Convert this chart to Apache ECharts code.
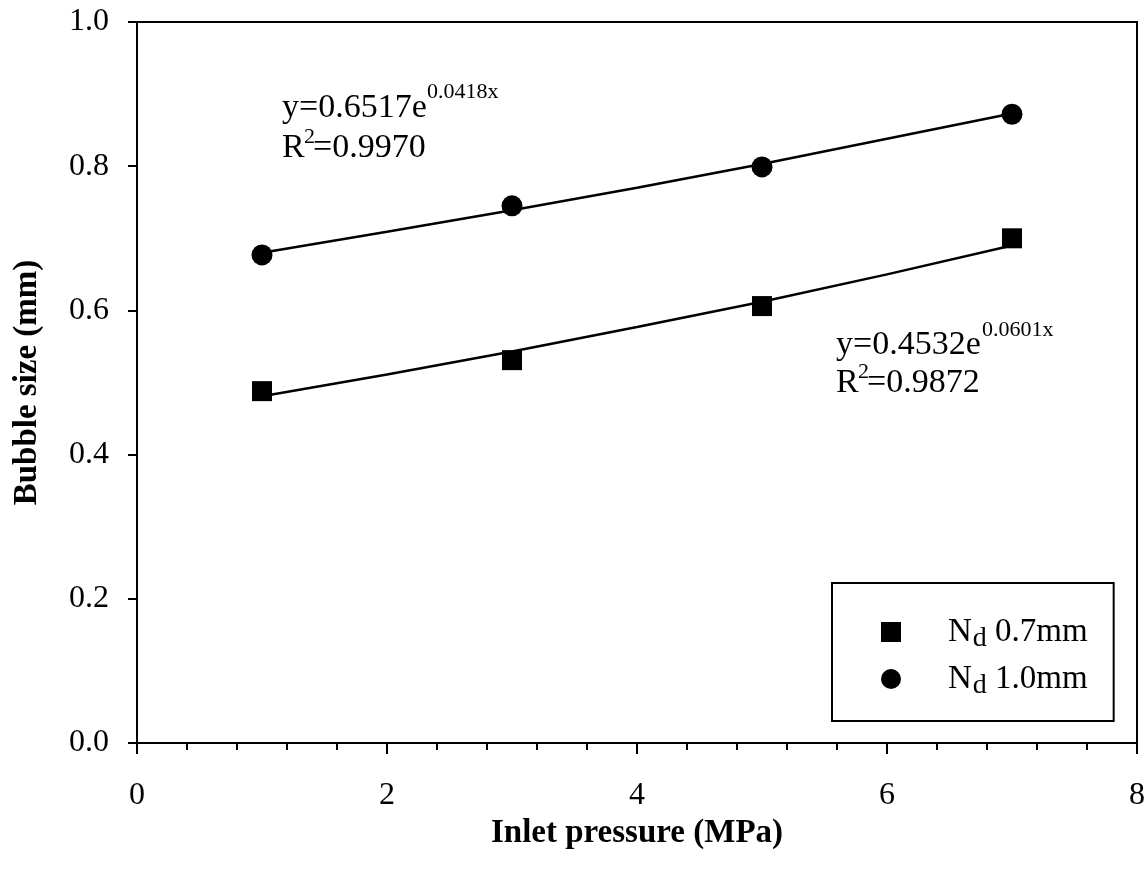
<!DOCTYPE html>
<html>
<head>
<meta charset="utf-8">
<script src="https://cdn.jsdelivr.net/npm/echarts@6/dist/echarts.min.js"></script>
<style>
  html, body { margin: 0; padding: 0; background: #fff; }
  #chart { width: 1148px; height: 875px; }
</style>
</head>
<body>
<div id="chart"></div>
<script>
const pressure = [1, 3, 5, 7];
const size07 = [0.488, 0.531, 0.606, 0.700];
const size10 = [0.677, 0.745, 0.799, 0.872];

// trend lines
const fitX = [1, 2, 3, 4, 5, 6, 7];
const fit07 = [0.481, 0.511, 0.543, 0.577, 0.612, 0.650, 0.690];
const fit10 = [0.680, 0.709, 0.739, 0.770, 0.803, 0.838, 0.873];

const seriesNames = ["Nd 0.7mm", "Nd 1.0mm"];
const xTicks = [0, 2, 4, 6, 8];
const yTicks = [0.0, 0.2, 0.4, 0.6, 0.8, 1.0];

const serif = "'Liberation Serif', 'Times New Roman', serif";

function pairs(xs, ys) {
  return xs.map((x, i) => [x, ys[i]]);
}

const chart = echarts.init(document.getElementById("chart"));

const option = {
  backgroundColor: "#fff",
  animation: false,
  grid: {
    left: 137,
    right: 10,
    top: 22,
    bottom: 132,
    show: true,
    borderColor: "#000",
    borderWidth: 2,
  },
  xAxis: {
    type: "value",
    min: xTicks[0],
    max: xTicks[xTicks.length - 1],
    interval: 2,
    name: "Inlet pressure (MPa)",
    nameLocation: "middle",
    nameGap: 73,
    nameTextStyle: { fontFamily: serif, fontWeight: "bold", fontSize: 33, color: "#000" },
    axisLine: { lineStyle: { color: "#000", width: 2 } },
    axisTick: { length: 11, lineStyle: { color: "#000", width: 2 } },
    minorTick: { show: true, splitNumber: 5, length: 7, lineStyle: { color: "#000", width: 2 } },
    splitLine: { show: false },
    axisLabel: { fontFamily: serif, fontSize: 32, color: "#000", margin: 37 },
  },
  yAxis: {
    type: "value",
    min: yTicks[0],
    max: yTicks[yTicks.length - 1],
    interval: 0.2,
    name: "Bubble size (mm)",
    nameLocation: "middle",
    nameGap: 93,
    nameTextStyle: { fontFamily: serif, fontWeight: "bold", fontSize: 33, color: "#000" },
    axisLine: { lineStyle: { color: "#000", width: 2 } },
    axisTick: { length: 9, lineStyle: { color: "#000", width: 2 } },
    splitLine: { show: false },
    axisLabel: {
      fontFamily: serif, fontSize: 32, color: "#000", margin: 28,
      formatter: (v) => v.toFixed(1),
    },
  },
  legend: {
    data: [
      { name: seriesNames[0], icon: "rect" },
      { name: seriesNames[1], icon: "circle" },
    ],
    orient: "vertical",
    left: 832,
    top: 583,
    padding: [33, 26, 21, 49],
    itemWidth: 20,
    itemHeight: 20,
    itemGap: 10,
    borderColor: "#000",
    borderWidth: 2,
    selectedMode: false,
    itemStyle: { opacity: 1 },
    formatter: (name) => {
      const parts = name.split(" ");
      return "{gap|}{n|N}{d|d}{n| " + parts[1] + "}";
    },
    textStyle: {
      color: "#000",
      rich: {
        gap: { width: 42 },
        n: { fontFamily: serif, fontSize: 33, color: "#000", verticalAlign: "top", lineHeight: 32 },
        d: { fontFamily: serif, fontSize: 28, color: "#000", verticalAlign: "top", lineHeight: 32, padding: [9, 0, 0, 1] },
      },
    },
  },
  graphic: [
    { type: "text", left: 282, top: 91, style: { text: "y=0.6517e", font: "34px " + serif, fill: "#000" } },
    { type: "text", left: 427, top: 81, style: { text: "0.0418x", font: "22px " + serif, fill: "#000" } },
    { type: "text", left: 282, top: 131, style: { text: "R", font: "34px " + serif, fill: "#000" } },
    { type: "text", left: 304, top: 126, style: { text: "2", font: "22px " + serif, fill: "#000" } },
    { type: "text", left: 313, top: 131, style: { text: "=0.9970", font: "34px " + serif, fill: "#000" } },

    { type: "text", left: 836, top: 328, style: { text: "y=0.4532e", font: "34px " + serif, fill: "#000" } },
    { type: "text", left: 982, top: 319, style: { text: "0.0601x", font: "22px " + serif, fill: "#000" } },
    { type: "text", left: 836, top: 366, style: { text: "R", font: "34px " + serif, fill: "#000" } },
    { type: "text", left: 858, top: 361, style: { text: "2", font: "22px " + serif, fill: "#000" } },
    { type: "text", left: 867, top: 366, style: { text: "=0.9872", font: "34px " + serif, fill: "#000" } },
  ],
  series: [
    {
      name: "fit07",
      type: "line",
      data: pairs(fitX, fit07),
      showSymbol: false,
      lineStyle: { color: "#000", width: 2.5 },
      z: 2,
    },
    {
      name: "fit10",
      type: "line",
      data: pairs(fitX, fit10),
      showSymbol: false,
      lineStyle: { color: "#000", width: 2.5 },
      z: 2,
    },
    {
      name: seriesNames[0],
      type: "scatter",
      symbol: "rect",
      symbolSize: 20,
      itemStyle: { color: "#000", opacity: 1 },
      data: pairs(pressure, size07),
      z: 3,
    },
    {
      name: seriesNames[1],
      type: "scatter",
      symbol: "circle",
      symbolSize: 21,
      itemStyle: { color: "#000", opacity: 1 },
      data: pairs(pressure, size10),
      z: 3,
    },
  ],
};

chart.setOption(option);
</script>
</body>
</html>
